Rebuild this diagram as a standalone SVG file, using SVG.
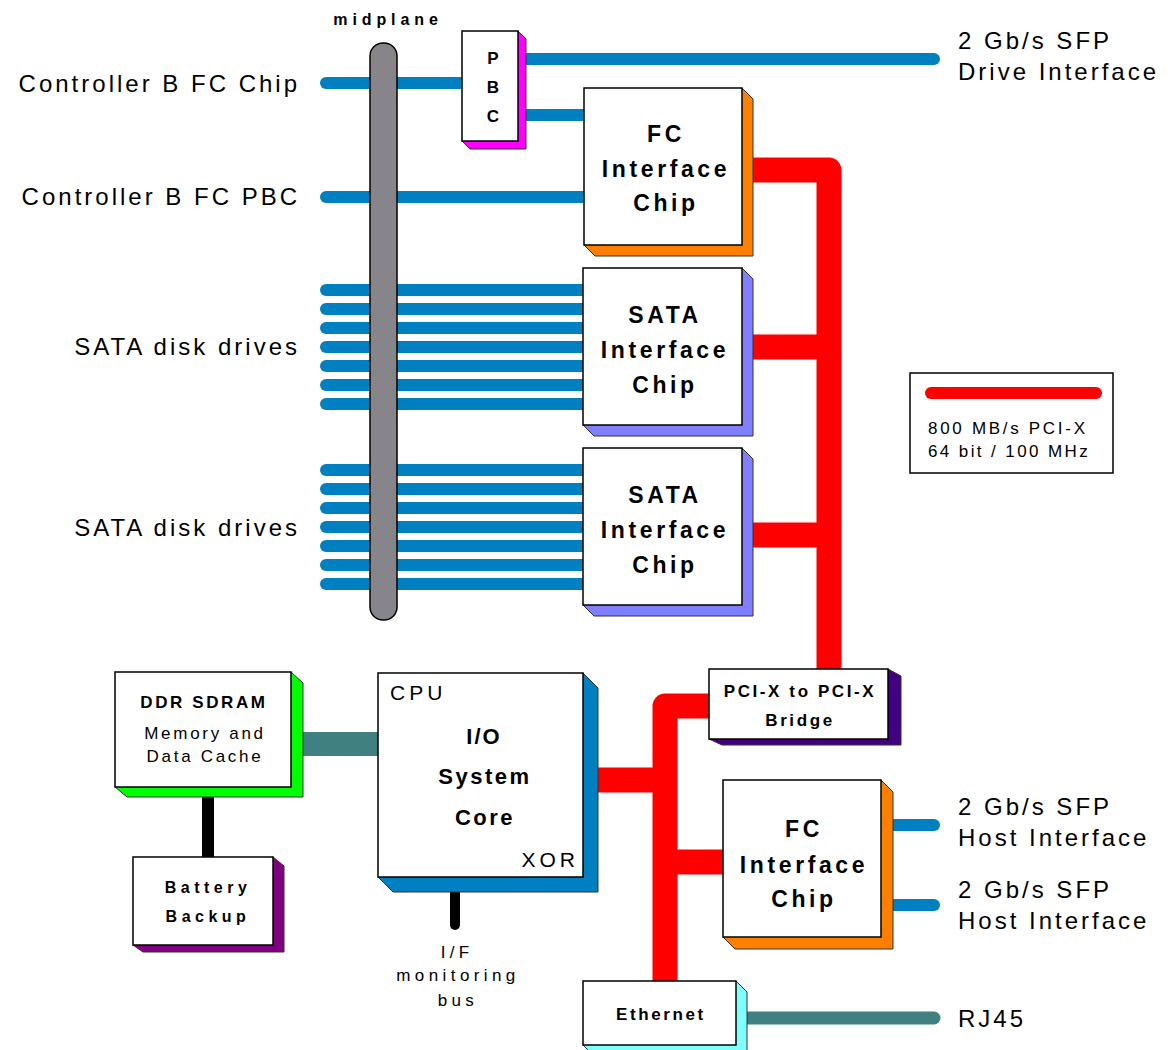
<svg xmlns="http://www.w3.org/2000/svg" width="1173" height="1050" viewBox="0 0 1173 1050">
<style>
text{font-family:"Liberation Sans",Arial,sans-serif;fill:#000}
.lbl{font-size:24px;letter-spacing:3px}
.bx{font-size:23px;font-weight:bold;letter-spacing:3.6px;text-anchor:middle}
.sm{font-size:17px;font-weight:bold;letter-spacing:2.6px;text-anchor:middle}
.box{fill:#fff;stroke:#000;stroke-width:1.5}
.sh{stroke:#333;stroke-width:1}
.blue{stroke:#0080C0;stroke-width:12;fill:none}
.red{stroke:#FF0000;stroke-width:25;fill:none;stroke-linejoin:round}
.teal{stroke:#408080;fill:none}
</style>
<rect width="1173" height="1050" fill="#fff"/>
<g id="connectors">
<g stroke-linecap="round">
<line class="blue" x1="326" y1="83" x2="462" y2="83"/>
<line class="blue" x1="526" y1="59" x2="934" y2="59"/>
<line class="blue" x1="326" y1="197" x2="584" y2="197"/>
<line class="blue" x1="326" y1="290" x2="583" y2="290"/>
<line class="blue" x1="326" y1="309" x2="583" y2="309"/>
<line class="blue" x1="326" y1="328" x2="583" y2="328"/>
<line class="blue" x1="326" y1="347" x2="583" y2="347"/>
<line class="blue" x1="326" y1="366" x2="583" y2="366"/>
<line class="blue" x1="326" y1="385" x2="583" y2="385"/>
<line class="blue" x1="326" y1="404" x2="583" y2="404"/>
<line class="blue" x1="326" y1="470" x2="583" y2="470"/>
<line class="blue" x1="326" y1="489" x2="583" y2="489"/>
<line class="blue" x1="326" y1="508" x2="583" y2="508"/>
<line class="blue" x1="326" y1="527" x2="583" y2="527"/>
<line class="blue" x1="326" y1="546" x2="583" y2="546"/>
<line class="blue" x1="326" y1="565" x2="583" y2="565"/>
<line class="blue" x1="326" y1="584" x2="583" y2="584"/>
<line class="blue" x1="893" y1="825" x2="934" y2="825"/>
<line class="blue" x1="893" y1="905" x2="934" y2="905"/>
<line class="teal" stroke-width="13" x1="747" y1="1018" x2="934" y2="1018"/>
<line stroke="#000" stroke-width="10" x1="455" y1="892" x2="455" y2="925"/>
</g>
<line class="blue" x1="518" y1="115" x2="584" y2="115"/>
<line class="teal" stroke-width="24" x1="303" y1="744" x2="378" y2="744"/>
<line stroke="#000" stroke-width="12" x1="208" y1="797" x2="208" y2="857"/>
<path class="red" d="M753 170 H829 V670"/>
<path class="red" d="M753 347 H829"/>
<path class="red" d="M753 535 H829"/>
<path class="red" d="M709 706 H665 V981"/>
<path class="red" d="M598 780 H665"/>
<path class="red" d="M665 862 H723"/>
</g>
<g id="midplane">
<rect x="370" y="43" width="27" height="577" rx="13" fill="#878589" stroke="#000" stroke-width="1.5"/>
<text x="388" y="25" font-size="16" font-weight="bold" letter-spacing="4.9" text-anchor="middle">midplane</text>
</g>
<g id="pbc">
<polygon class="sh" fill="#FF00FF" points="518,31 526,39 526,149 470,149 462,141"/>
<rect class="box" x="462" y="31" width="56" height="110" stroke="#777"/>
<text x="493" y="64" font-size="17" font-weight="bold" text-anchor="middle">P</text>
<text x="493" y="93" font-size="17" font-weight="bold" text-anchor="middle">B</text>
<text x="493" y="122" font-size="17" font-weight="bold" text-anchor="middle">C</text>
</g>
<g id="fc-top">
<polygon class="sh" fill="#FF8000" points="742,88 753,99 753,256 595,256 584,245"/>
<rect class="box" x="584" y="88" width="158" height="157"/>
<text class="bx" x="666" y="142">FC</text>
<text class="bx" x="666" y="177">Interface</text>
<text class="bx" x="666" y="211">Chip</text>
</g>
<g id="sata1">
<polygon class="sh" fill="#8080FF" points="742,268 753,279 753,436 594,436 583,425"/>
<rect class="box" x="583" y="268" width="159" height="157"/>
<text class="bx" x="665" y="323">SATA</text>
<text class="bx" x="665" y="358">Interface</text>
<text class="bx" x="665" y="393">Chip</text>
</g>
<g id="sata2">
<polygon class="sh" fill="#8080FF" points="742,448 753,459 753,616 594,616 583,605"/>
<rect class="box" x="583" y="448" width="159" height="157"/>
<text class="bx" x="665" y="503">SATA</text>
<text class="bx" x="665" y="538">Interface</text>
<text class="bx" x="665" y="573">Chip</text>
</g>
<g id="bridge">
<polygon class="sh" fill="#400080" points="888,669 901,676 901,745 722,745 709,739"/>
<rect class="box" x="709" y="669" width="179" height="70"/>
<text class="sm" x="800" y="697">PCI-X to PCI-X</text>
<text class="sm" x="800" y="726">Bridge</text>
</g>
<g id="cpu">
<polygon class="sh" fill="#0080C0" points="583,673 598,688 598,892 393,892 378,877"/>
<rect class="box" x="378" y="673" width="205" height="204"/>
<text x="390" y="700" font-size="21" letter-spacing="4">CPU</text>
<text x="484" y="744" font-size="22" font-weight="bold" letter-spacing="2" text-anchor="middle">I/O</text>
<text x="485" y="784" font-size="22" font-weight="bold" letter-spacing="2.5" text-anchor="middle">System</text>
<text x="485" y="825" font-size="22" font-weight="bold" letter-spacing="2.5" text-anchor="middle">Core</text>
<text x="579" y="867" font-size="21" letter-spacing="4" text-anchor="end">XOR</text>
</g>
<g id="fc-bottom">
<polygon class="sh" fill="#FF8000" points="881,780 893,792 893,949 735,949 723,937"/>
<rect class="box" x="723" y="780" width="158" height="157"/>
<text class="bx" x="804" y="837">FC</text>
<text class="bx" x="804" y="873">Interface</text>
<text class="bx" x="804" y="907">Chip</text>
</g>
<g id="ethernet">
<polygon class="sh" fill="#80FFFF" points="736,981 747,992 747,1056 594,1056 583,1045"/>
<rect class="box" x="583" y="981" width="153" height="64" stroke="#777"/>
<text class="sm" x="661" y="1020">Ethernet</text>
</g>
<g id="ddr">
<polygon class="sh" fill="#00FF00" points="291,672 303,683 303,797 127,797 115,787"/>
<rect class="box" x="115" y="672" width="176" height="115"/>
<text class="sm" x="204" y="708">DDR SDRAM</text>
<text x="205" y="739" font-size="17" letter-spacing="2.7" text-anchor="middle">Memory and</text>
<text x="205" y="762" font-size="17" letter-spacing="2.7" text-anchor="middle">Data Cache</text>
</g>
<g id="battery">
<polygon class="sh" fill="#800080" points="273,857 284,866 284,952 143,952 133,945"/>
<rect class="box" x="133" y="857" width="140" height="88"/>
<text x="208" y="893" font-size="16" font-weight="bold" letter-spacing="4.5" text-anchor="middle">Battery</text>
<text x="208" y="922" font-size="16" font-weight="bold" letter-spacing="4.5" text-anchor="middle">Backup</text>
</g>
<g id="legend">
<rect x="910" y="373" width="203" height="100" fill="#fff" stroke="#000" stroke-width="1.5"/>
<line x1="931" y1="393" x2="1096" y2="393" stroke="#FF0000" stroke-width="12" stroke-linecap="round"/>
<text x="928" y="434" font-size="17" letter-spacing="2.7">800 MB/s PCI-X</text>
<text x="928" y="457" font-size="17" letter-spacing="2.4">64 bit / 100 MHz</text>
</g>
<g id="labels">
<text class="lbl" x="300" y="92" text-anchor="end">Controller B FC Chip</text>
<text class="lbl" x="300" y="205" text-anchor="end">Controller B FC PBC</text>
<text class="lbl" x="300" y="355" text-anchor="end">SATA disk drives</text>
<text class="lbl" x="300" y="536" text-anchor="end">SATA disk drives</text>
<text class="lbl" x="958" y="49">2 Gb/s SFP</text>
<text class="lbl" x="958" y="80">Drive Interface</text>
<text class="lbl" x="958" y="815">2 Gb/s SFP</text>
<text class="lbl" x="958" y="846">Host Interface</text>
<text class="lbl" x="958" y="898">2 Gb/s SFP</text>
<text class="lbl" x="958" y="929">Host Interface</text>
<text class="lbl" x="958" y="1027">RJ45</text>
<text x="457" y="958" font-size="17" letter-spacing="4.3" text-anchor="middle">I/F</text>
<text x="458" y="981" font-size="17" letter-spacing="4.4" text-anchor="middle">monitoring</text>
<text x="458" y="1006" font-size="17" letter-spacing="4.3" text-anchor="middle">bus</text>
</g>
</svg>
